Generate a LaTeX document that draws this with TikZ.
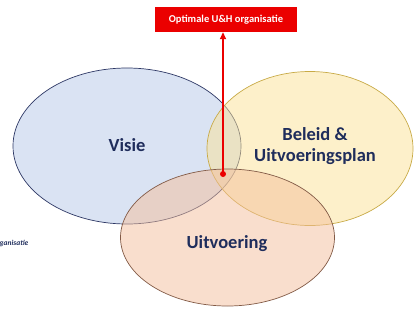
\documentclass[tikz,border=0pt]{standalone}
\usepackage{fontspec}
\setmainfont{Carlito}
\usetikzlibrary{arrows.meta}
\definecolor{navy}{RGB}{31,45,92}
\definecolor{bluefill}{RGB}{218,227,243}
\definecolor{blueedge}{RGB}{45,55,100}
\definecolor{yelfill}{RGB}{251,226,150}
\definecolor{yeledge}{RGB}{200,170,70}
\definecolor{peachfill}{RGB}{244,190,155}
\definecolor{peachedge}{RGB}{130,90,70}
\definecolor{uhred}{RGB}{235,0,0}
\tikzset{
  lbl/.style={font=\bfseries\fontsize{18.5}{21.5}\selectfont, text=navy, align=center, inner sep=0pt},
  redbox/.style={fill=uhred, text=white, font=\bfseries\fontsize{10.5}{12}\selectfont, minimum width=142pt, minimum height=25pt, inner sep=0pt},
  redline/.style={draw=uhred, line width=1.8pt}
}
\begin{document}
\begin{tikzpicture}[x=1pt,y=-1pt]
\useasboundingbox (0,0) rectangle (416,325);
% ellipses
\path[fill=bluefill, draw=blueedge, line width=0.7pt] (127,146) ellipse [x radius=114pt, y radius=78pt];
\path[fill=yelfill, fill opacity=0.5, draw=yeledge, line width=0.7pt] (310,148.5) ellipse [x radius=103pt, y radius=77pt];
\path[fill=peachfill, fill opacity=0.5, draw=peachedge, line width=0.7pt] (227.5,237.5) ellipse [x radius=107pt, y radius=68.5pt];
% labels
\node[lbl] (visie) at (127,145) {Visie};
\node[lbl] (beleid) at (315,146) {Beleid \&\\Uitvoeringsplan};
\node[lbl] (uitv) at (227,244) {Uitvoering};
\node[font=\bfseries\itshape\fontsize{7.5}{9}\selectfont, text=navy, anchor=west, inner sep=0pt] (org) at (-0.5,243) {ganisatie};
% top box and arrow
\node[redbox] (goal) at (226,19.5) {Optimale U\&H organisatie};
\coordinate (dot) at (223,174);
\fill[uhred] (dot) circle (3pt);
\draw[redline, -{Triangle[length=7pt,width=6pt]}] (dot) -- (dot |- goal.south);
\end{tikzpicture}
\end{document}
